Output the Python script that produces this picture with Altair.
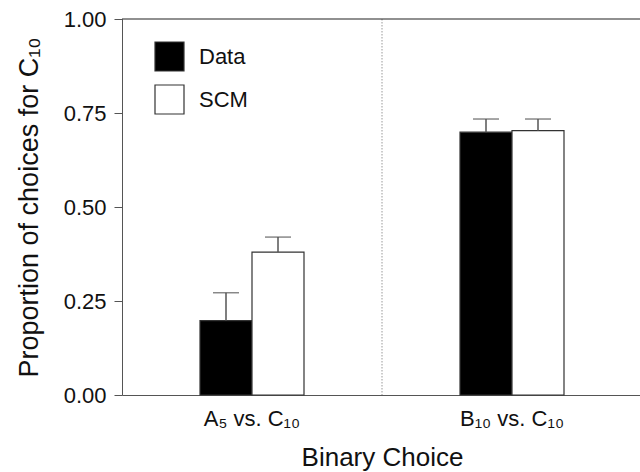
import altair as alt
import pandas as pd

categories = ["A\u2085 vs. C\u2081\u2080", "B\u2081\u2080 vs. C\u2081\u2080"]
series = ["Data", "SCM"]
data_vals = [0.198, 0.699]
data_err = [0.272, 0.734]
scm_vals = [0.380, 0.703]
scm_err = [0.420, 0.734]

rows = []
for i, c in enumerate(categories):
    rows.append({"cat": c, "series": "Data", "value": data_vals[i], "err": data_err[i]})
    rows.append({"cat": c, "series": "SCM", "value": scm_vals[i], "err": scm_err[i]})
df = pd.DataFrame(rows)

FONT = "Liberation Sans"

xenc = alt.X("cat:N", sort=categories,
             scale=alt.Scale(range=[0, 520], paddingInner=0, paddingOuter=0),
             axis=alt.Axis(title="Binary Choice", labelAngle=0, ticks=False,
                           labelAlign="center",
                           labelFontSize=22, titleFontSize=26, labelPadding=23,
                           titlePadding=15, domainColor="#555", labelColor="#111",
                           titleColor="#111", titleFontWeight="normal"))
yenc = alt.Y("value:Q", scale=alt.Scale(domain=[0, 1]),
             axis=alt.Axis(title="Proportion of choices for C\u2081\u2080",
                           values=[0, 0.25, 0.5, 0.75, 1.0], format=".2f",
                           tickSize=8, labelPadding=8, labelFontSize=22,
                           titleFontSize=27, titlePadding=20, domainColor="#555",
                           tickColor="#555", labelColor="#111", titleColor="#111",
                           titleFontWeight="normal", grid=False))
xoff = alt.XOffset("series:N", sort=series,
                   scale=alt.Scale(paddingInner=0, paddingOuter=0, range=[78, 182]))

base = alt.Chart(df)

bars = base.mark_bar(stroke="#333", strokeWidth=1.2).encode(
    x=xenc, y=yenc, xOffset=xoff,
    fill=alt.Fill("series:N", sort=series,
                  scale=alt.Scale(domain=series, range=["#000000", "#ffffff"]),
                  legend=alt.Legend(title=None, orient="none", legendX=32, legendY=22,
                                    symbolType="square", symbolSize=841,
                                    symbolStrokeColor="#333", symbolStrokeWidth=1.2,
                                    labelFontSize=22, labelOffset=14, rowPadding=8,
                                    padding=0, labelColor="#111", labelFont=FONT)),
)

err_rule = base.mark_rule(color="#555", strokeWidth=1.5).encode(
    x=alt.X("cat:N", sort=categories), xOffset=xoff,
    y="value:Q", y2="err:Q",
)
err_cap = base.mark_tick(color="#555", size=26, thickness=1.5).encode(
    x=alt.X("cat:N", sort=categories), xOffset=xoff,
    y="err:Q",
)

top_line = alt.Chart(pd.DataFrame({"v": [1.0]})).mark_rule(color="#222", strokeWidth=1.2).encode(
    y="v:Q"
)
divider = alt.Chart(pd.DataFrame({"cat": [categories[0]]})).mark_rule(
    color="#999", strokeDash=[1.5, 1.5], strokeWidth=1
).encode(x=alt.X("cat:N", sort=categories, bandPosition=1))

chart = alt.layer(divider, bars, err_rule, err_cap, top_line).properties(
    width=518, height=376,
    autosize=alt.AutoSizeParams(type="none"),
    padding={"left": 122, "right": 0, "top": 19, "bottom": 77},
).configure(font=FONT).configure_view(stroke=None)

chart.save("out.html", embed_options={"renderer": "svg", "actions": False})
